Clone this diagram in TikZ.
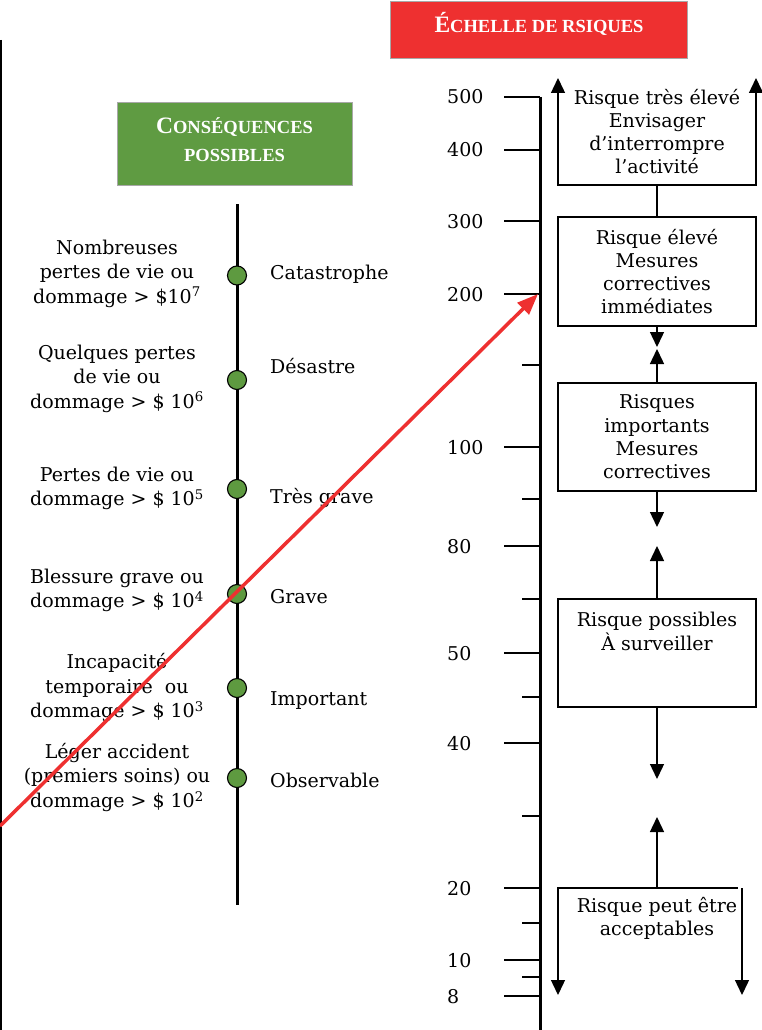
\documentclass[tikz,border=0pt]{standalone}
\usepackage{fontspec}
\setmainfont{DejaVu Serif}
\newfontfamily\headfont{Liberation Serif}
\usetikzlibrary{arrows.meta}
\definecolor{riskred}{HTML}{EE3030}
\definecolor{headgreen}{HTML}{5F9B42}
\definecolor{dotgreen}{HTML}{5E9A40}
\definecolor{headborder}{HTML}{A8A8A8}

\begin{document}
\begin{tikzpicture}[x=1pt,y=-1pt,
  body/.style={font=\fontsize{19}{23.3}\selectfont, inner sep=0pt},
  leftbody/.style={font=\fontsize{19}{24.5}\selectfont, inner sep=0pt, align=center},
  headbox/.style={draw=headborder, line width=1pt, inner sep=0pt},
  headtext/.style={text=white, font=\headfont\bfseries, inner sep=0pt, anchor=base},
  riskbox/.style={draw, line width=1.2pt, inner sep=0pt, minimum width=198pt},
  boxtext/.style={body, align=center},
  flow/.style={line width=1.4pt, -{Triangle[length=15pt,width=14pt]}},
  plain/.style={line width=1.4pt},
  tickmark/.style={line width=1.3pt},
  axis/.style={line width=3pt},
  dot/.style={circle, draw, line width=1.1pt, fill=dotgreen, minimum size=19pt, inner sep=0pt},
  level/.style={body, anchor=base west},
  scalelbl/.style={body, anchor=base west},
]
\useasboundingbox (0,0) rectangle (761,1030);

% frame line on the left edge
\draw[line width=2.2pt] (1,40) -- (1,1030);

% ---------- headers ----------
\node[headbox, fill=riskred, minimum width=297pt, minimum height=57pt] (hrisk) at (538.5,30.5) {};
\node[headtext] (hrisktxt) at (539,32.5)
  {{\fontsize{23.5}{26}\selectfont É}{\fontsize{18.5}{22}\selectfont CHELLE DE RSIQUES}};

\node[headbox, fill=headgreen, minimum width=235pt, minimum height=82pt] (hcons) at (234.5,144) {};
\node[headtext] (hconsA) at (234.5,133)
  {{\fontsize{23.5}{26}\selectfont C}{\fontsize{18.5}{22}\selectfont ONSÉQUENCES}};
\node[headtext] (hconsB) at (234.5,161)
  {{\fontsize{18.5}{22}\selectfont POSSIBLES}};

% ---------- consequences axis ----------
\coordinate (ctop) at (237,204);
\coordinate (cbot) at (237,905);
\draw[axis] (ctop) -- (cbot);

\node[dot] (d1) at (237,275.5) {};
\node[dot] (d2) at (237,380) {};
\node[dot] (d3) at (237,489) {};
\node[dot] (d4) at (237,594) {};
\node[dot] (d5) at (237,688) {};
\node[dot] (d6) at (237,778) {};

\node[level] (l1) at (270,279) {Catastrophe};
\node[level] (l2) at (270,373) {Désastre};
\node[level] (l3) at (270,503) {Très grave};
\node[level] (l4) at (270,603) {Grave};
\node[level] (l5) at (270,705) {Important};
\node[level] (l6) at (270,787) {Observable};

\node[leftbody] (c1) at (117,273.5) {Nombreuses\\pertes de vie ou\\dommage > \$10\textsuperscript{7}};
\node[leftbody] (c2) at (117,378.5) {Quelques pertes\\de vie ou\\dommage > \$ 10\textsuperscript{6}};
\node[leftbody] (c3) at (117,488.5) {Pertes de vie ou\\dommage > \$ 10\textsuperscript{5}};
\node[leftbody] (c4) at (117,590.5) {Blessure grave ou\\dommage > \$ 10\textsuperscript{4}};
\node[leftbody] (c5) at (117,688) {Incapacité\\temporaire~ ou\\dommage > \$ 10\textsuperscript{3}};
\node[leftbody] (c6) at (117,777.5) {Léger accident\\(premiers soins) ou\\dommage > \$ 10\textsuperscript{2}};

% ---------- risk scale ----------
\coordinate (stop) at (540,97);
\coordinate (sbot) at (540,1030);
\draw[axis] (stop) -- (sbot);

\foreach \y/\v/\b in {97/500/104, 150/400/157, 221/300/228, 294/200/301, 447/100/454,
                      546/80/553, 653/50/660, 743/40/750, 888/20/895, 960/10/967, 996/8/1003}{
  \draw[tickmark] (504,\y) -- (540,\y);
  \node[scalelbl] (s\v) at (447,\b) {\v};
}
\foreach \y in {365,499,599,697,816,923,977}{
  \draw[tickmark] (522,\y) -- (540,\y);
}

% ---------- risk levels ----------
% top level: open bracket with arrows pointing up
\coordinate (b1tl) at (558,78);
\coordinate (b1tr) at (756,78);
\coordinate (b1bl) at (558,185);
\coordinate (b1br) at (756,185);
\coordinate (b1b) at (657,185);
\draw[plain, {Triangle[length=15pt,width=14pt]}-{Triangle[length=15pt,width=14pt]}]
  (b1tl) -- (b1bl) -- (b1br) -- (b1tr);
\node[boxtext] (t1) at (657,131.5) {Risque très élevé\\Envisager\\d’interrompre\\l’activité};

\node[riskbox, minimum height=109pt, boxtext] (b2) at (657,271.5)
  {Risque élevé\\Mesures\\correctives\\immédiates};
\draw[plain] (b1b) -- (b2.north);

\node[riskbox, minimum height=108pt, boxtext] (b3) at (657,437)
  {Risques\\importants\\Mesures\\correctives};
\coordinate (a23d) at (657,347);
\coordinate (a23u) at (657,349);
\draw[flow] (b2.south) -- (a23d);
\draw[flow] (b3.north) -- (a23u);

\node[riskbox, minimum height=108pt] (b4) at (657,653) {};
\node[boxtext] (t4) at (657,631.5) {Risque possibles\\À surveiller};
\coordinate (a34d) at (657,527);
\coordinate (a34u) at (657,546);
\draw[flow] (b3.south) -- (a34d);
\draw[flow] (b4.north) -- (a34u);

% bottom level: open bracket with arrows pointing down
\coordinate (b5l) at (558,888);
\coordinate (b5m) at (657,888);
\coordinate (b5r) at (738,888);
\coordinate (b5rr) at (742,888);
\coordinate (b5lb) at (558,995);
\coordinate (b5rb) at (742,995);
\draw[plain, {Triangle[length=15pt,width=14pt]}-] (b5lb) -- (b5l) -- (b5r);
\draw[flow] (b5rr) -- (b5rb);
\node[boxtext] (t5) at (657,918.5) {Risque peut être\\acceptables};

\coordinate (a45d) at (657,779);
\coordinate (a45u) at (657,817);
\draw[flow] (b4.south) -- (a45d);
\draw[flow] (b5m) -- (a45u);

% ---------- red pointer ----------
\coordinate (rstart) at (0,826);
\coordinate (rend) at (538,294);
\draw[riskred, line width=3.5pt, -{Triangle[length=21pt,width=16pt]}] (rstart) -- (rend);
\end{tikzpicture}
\end{document}
